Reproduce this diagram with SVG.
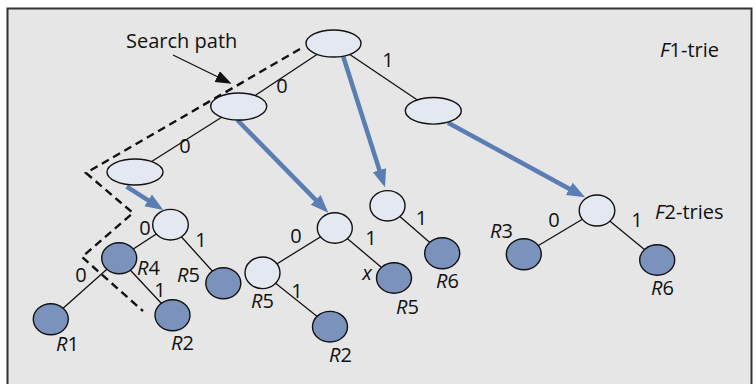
<svg xmlns="http://www.w3.org/2000/svg" width="756" height="384" viewBox="0 0 756 384">
<defs>
<style>
.t{font-family:"Open Sans","Liberation Sans",sans-serif;font-size:20px;fill:#111}
.m{text-anchor:middle}
.i{font-style:italic}
.edge{stroke:#111;stroke-width:1.3;fill:none}
.blue{stroke:#5a7db3;stroke-width:4.5;fill:none;marker-end:url(#bh)}
.in{fill:#e4e8f0;stroke:#111;stroke-width:1.4}
.lf{fill:#7b93bc;stroke:#111;stroke-width:1.4}
</style>
<marker id="bh" markerUnits="userSpaceOnUse" markerWidth="20" markerHeight="16" refX="2" refY="7" orient="auto">
<path d="M0,0 L18,7 L0,14 z" fill="#5a7db3"/>
</marker>
<marker id="kh" markerUnits="userSpaceOnUse" markerWidth="18" markerHeight="14" refX="2" refY="6" orient="auto">
<path d="M0,0 L16,6 L0,12 z" fill="#111"/>
</marker>
</defs>
<rect x="7.5" y="8.5" width="744" height="390" fill="#e6e6e6" stroke="#333" stroke-width="2"/>

<g id="connectors">
<line class="edge" x1="333.5" y1="43.5" x2="238.7" y2="106.5"/>
<line class="edge" x1="238.7" y1="106.5" x2="135" y2="172"/>
<line class="edge" x1="333.5" y1="43.5" x2="433.3" y2="110.8"/>
<line class="edge" x1="170.5" y1="224.7" x2="119.2" y2="258.2"/>
<line class="edge" x1="170.5" y1="224.7" x2="223.3" y2="283.3"/>
<line class="edge" x1="119.2" y1="258.2" x2="50.8" y2="319.2"/>
<line class="edge" x1="119.2" y1="258.2" x2="172.5" y2="315.3"/>
<line class="edge" x1="334.8" y1="228" x2="262.5" y2="272.8"/>
<line class="edge" x1="334.8" y1="228" x2="394" y2="278"/>
<line class="edge" x1="262.5" y1="272.8" x2="330" y2="326.7"/>
<line class="edge" x1="387.5" y1="205.8" x2="442.2" y2="253.2"/>
<line class="edge" x1="597" y1="210.5" x2="523.8" y2="254.2"/>
<line class="edge" x1="597" y1="210.5" x2="657.2" y2="260"/>
<line class="blue" x1="126.7" y1="186.7" x2="149.8" y2="201.4"/>
<line class="blue" x1="237.3" y1="120" x2="317.1" y2="201.3"/>
<line class="blue" x1="343.3" y1="56.7" x2="380.1" y2="172.1"/>
<line class="blue" x1="448" y1="122.7" x2="571" y2="189.7"/>
<polyline points="300,49 86,173 133,213 82,257 143,311" fill="none" stroke="#111" stroke-width="2.4" stroke-dasharray="8,5"/>
<line x1="173" y1="55" x2="219" y2="77.5" stroke="#111" stroke-width="1.3" marker-end="url(#kh)"/>
</g>

<g id="f1-root"><ellipse class="in" cx="333.5" cy="43.5" rx="27.5" ry="13.5"/></g>
<g id="f1-0"><ellipse class="in" cx="238.7" cy="106.5" rx="28" ry="13.5"/></g>
<g id="f1-00"><ellipse class="in" cx="135" cy="172" rx="28" ry="13"/></g>
<g id="f1-1"><ellipse class="in" cx="433.3" cy="110.8" rx="28" ry="13.3"/></g>

<g id="f2a-root"><ellipse class="in" cx="170.5" cy="224.7" rx="17.8" ry="15.3"/></g>
<g id="f2a-r4"><ellipse class="lf" cx="119.2" cy="258.2" rx="17.5" ry="15.5"/></g>
<g id="f2a-r5"><ellipse class="lf" cx="223.3" cy="283.3" rx="17.5" ry="15.5"/></g>
<g id="f2a-r1"><ellipse class="lf" cx="50.8" cy="319.2" rx="17.5" ry="15.5"/></g>
<g id="f2a-r2"><ellipse class="lf" cx="172.5" cy="315.3" rx="17.5" ry="15.5"/></g>

<g id="f2b-root"><ellipse class="in" cx="334.8" cy="228" rx="17.5" ry="15.3"/></g>
<g id="f2b-0"><ellipse class="in" cx="262.5" cy="272.8" rx="17.5" ry="15.8"/></g>
<g id="f2b-x"><ellipse class="lf" cx="394" cy="278" rx="17.5" ry="15.3"/></g>
<g id="f2b-r2"><ellipse class="lf" cx="330" cy="326.7" rx="17.5" ry="15.3"/></g>

<g id="f2c-root"><ellipse class="in" cx="387.5" cy="205.8" rx="17.5" ry="15.2"/></g>
<g id="f2c-r6"><ellipse class="lf" cx="442.2" cy="253.2" rx="17.5" ry="15.5"/></g>

<g id="f2d-root"><ellipse class="in" cx="597" cy="210.5" rx="17.8" ry="15.5"/></g>
<g id="f2d-r3"><ellipse class="lf" cx="523.8" cy="254.2" rx="17.5" ry="15.5"/></g>
<g id="f2d-r6"><ellipse class="lf" cx="657.2" cy="260" rx="17.5" ry="15.3"/></g>

<g id="labels">
<text class="t" x="126" y="48">Search path</text>
<text class="t" x="660" y="57"><tspan class="i">F</tspan>1-trie</text>
<text class="t" x="655" y="219"><tspan class="i">F</tspan>2-tries</text>
<text class="t m" x="282" y="93">0</text>
<text class="t m" x="185" y="153">0</text>
<text class="t m" x="388" y="67">1</text>
<text class="t m" x="145" y="235">0</text>
<text class="t m" x="201" y="247">1</text>
<text class="t m" x="81" y="282">0</text>
<text class="t m" x="160" y="297">1</text>
<text class="t" x="137" y="275"><tspan class="i">R</tspan>4</text>
<text class="t" x="177" y="282"><tspan class="i">R</tspan>5</text>
<text class="t" x="56" y="351"><tspan class="i">R</tspan>1</text>
<text class="t" x="171" y="350"><tspan class="i">R</tspan>2</text>
<text class="t m" x="296" y="243">0</text>
<text class="t m" x="371" y="245">1</text>
<text class="t m i" x="367" y="280">x</text>
<text class="t" x="251" y="308"><tspan class="i">R</tspan>5</text>
<text class="t m" x="297" y="298">1</text>
<text class="t" x="329" y="362"><tspan class="i">R</tspan>2</text>
<text class="t" x="396" y="314"><tspan class="i">R</tspan>5</text>
<text class="t m" x="421.5" y="224.5">1</text>
<text class="t" x="436" y="288"><tspan class="i">R</tspan>6</text>
<text class="t m" x="554" y="227">0</text>
<text class="t m" x="637" y="227">1</text>
<text class="t" x="490" y="238"><tspan class="i">R</tspan>3</text>
<text class="t" x="651" y="295"><tspan class="i">R</tspan>6</text>
</g>
</svg>
